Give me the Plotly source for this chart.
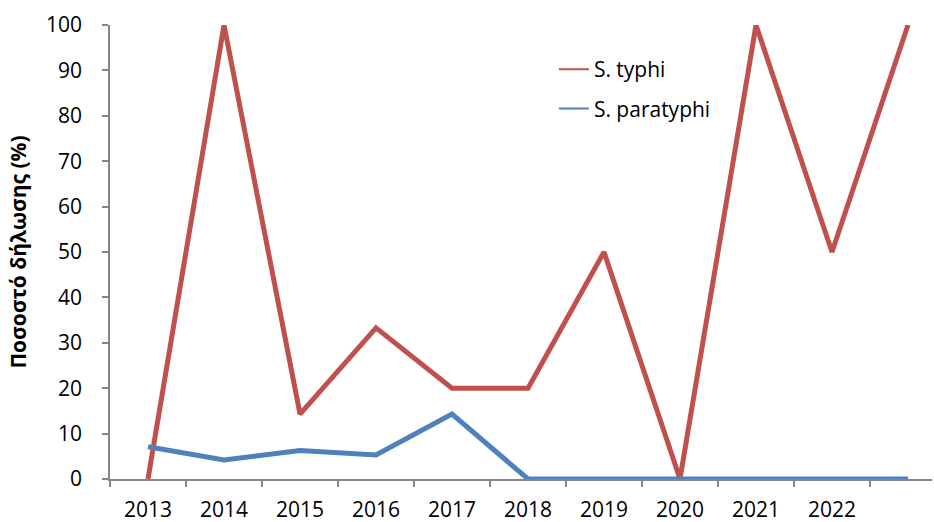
import plotly.graph_objects as go

years = [2013, 2014, 2015, 2016, 2017, 2018, 2019, 2020, 2021, 2022, 2023]
tick_years = [2013, 2014, 2015, 2016, 2017, 2018, 2019, 2020, 2021, 2022]
typhi = [0, 100, 14.3, 33.3, 20, 20, 50, 0, 100, 50, 100]
paratyphi = [7.1, 4.2, 6.3, 5.3, 14.3, 0, 0, 0, 0, 0, 0]
series_names = ["S. typhi", "S. paratyphi"]
colors = ["#C0504D", "#4F81BD"]
y_title = "Ποσοστό δήλωσης (%)"

FONT = "Open Sans"
AXIS = "#868686"

fig = go.Figure()
for name, vals, col in zip(series_names, [typhi, paratyphi], colors):
    fig.add_trace(go.Scatter(x=years, y=vals, mode="lines", name=name,
                             line=dict(color=col, width=5), showlegend=False))
# thin legend entries
for i, (name, col) in enumerate(zip(series_names, colors)):
    fig.add_trace(go.Scatter(x=[None], y=[None], mode="lines", name=name,
                             line=dict(color=col, width=2), legendgroup="g%d" % i,
                             showlegend=True))

fig.update_layout(
    width=934, height=522,
    margin=dict(l=110, r=2, t=25, b=43),
    paper_bgcolor="white", plot_bgcolor="white",
    font=dict(family=FONT, size=20, color="#000000"),
    legend=dict(x=0.54, y=0.947, xanchor="left", yanchor="top",
                bgcolor="rgba(0,0,0,0)", font=dict(size=21, family=FONT),
                tracegroupgap=9, traceorder="grouped"),
    xaxis=dict(
        range=[2012.5, 2012.5 + 822 / 76], tickmode="array", tickvals=tick_years,
        ticktext=[str(y) for y in tick_years], ticks="", showgrid=False,
        zeroline=False, showline=True, linecolor=AXIS, linewidth=1.5,
        tickfont=dict(size=21, family=FONT), ticklabelstandoff=11,
        automargin=False,
        minor=dict(tickmode="array", tickvals=[y - 0.5 for y in years],
                   ticks="outside", ticklen=6, tickcolor=AXIS, tickwidth=1.5,
                   showgrid=False),
    ),
    yaxis=dict(
        range=[0, 100], tickmode="linear", tick0=0, dtick=10, ticks="outside",
        ticklen=6, tickcolor=AXIS, tickwidth=1.5, showgrid=False, zeroline=False,
        showline=True, linecolor=AXIS, linewidth=1.5,
        tickfont=dict(size=21, family=FONT), ticklabelstandoff=16,
        automargin=False,
        title=dict(text="<b>" + y_title + "</b>", font=dict(size=21, family=FONT),
                   standoff=14),
    ),
)

fig.write_html("out.html", config={"displayModeBar": False},
               post_script="document.body.style.margin='0';document.body.style.overflow='hidden';")
